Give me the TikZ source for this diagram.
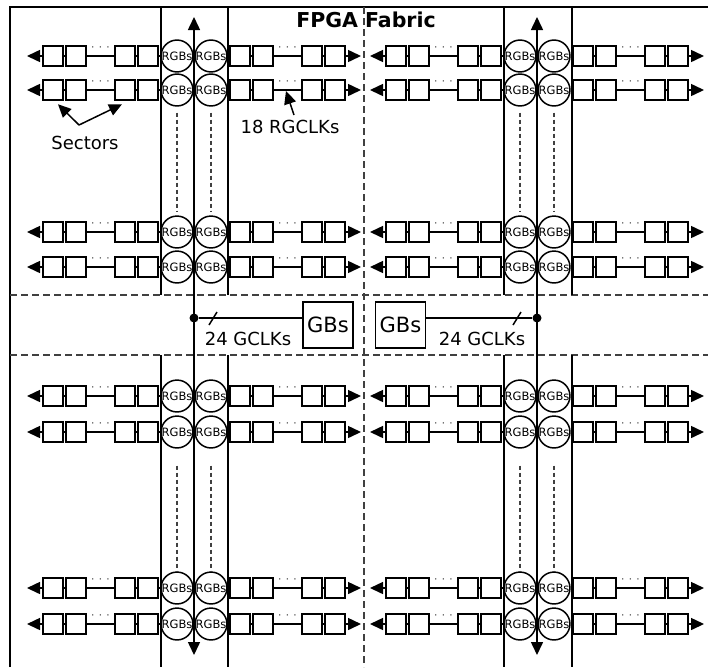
\documentclass[tikz,border=0pt]{standalone}
\usepackage{fontspec}
\setmainfont{DejaVu Sans}
\usetikzlibrary{arrows.meta}
\begin{document}
\begin{tikzpicture}[x=1pt,y=-1pt,line width=1.5pt,
  tip/.style={-{Triangle[length=13pt,width=12pt]}},
  tips/.style={{Triangle[length=13pt,width=12pt]}-{Triangle[length=13pt,width=12pt]}},
  sector/.style={draw,fill=white,minimum size=20pt,inner sep=0pt},
  rgb/.style={circle,draw,fill=white,minimum size=31pt,inner sep=0pt,font=\fontsize{11.5}{11.5}\selectfont},
  gb/.style={draw,minimum width=50pt,minimum height=46pt,inner sep=0pt,font=\fontsize{21}{21}\selectfont},
  lbl/.style={font=\fontsize{18}{18}\selectfont,inner sep=0pt},
  dots/.style={font=\fontsize{12}{12}\selectfont,text=black!60,inner sep=0pt},
  sep/.style={dash pattern=on 7pt off 4pt,draw=black!75},
  vdash/.style={dash pattern=on 4pt off 3pt,line width=1.3pt,draw=black!75}]
\useasboundingbox (0,0) rectangle (708,667);
\draw (10,667)--(10,7)--(708,7);
\draw[sep] (10,295)--(708,295);
\draw[sep] (10,355)--(708,355);
\draw[sep] (364,7)--(364,667);
\foreach \x in {161,228,504,572}
{
    \draw (\x,7)--(\x,295);
    \draw (\x,355)--(\x,667);
}
\node[font=\fontsize{20.5}{20.5}\selectfont\bfseries] (title) at (366,20) {FPGA Fabric};
\foreach \cx/\h in {194/L,537/R}
{
    \coordinate (top\h) at (\cx,17);
    \coordinate (bot\h) at (\cx,655);
    \draw[tips] (top\h)--(bot\h);
    \foreach \y/\r in {56/1,90/2,232/3,267/4,396/5,432/6,588/7,624/8}
    {
        \node[rgb] (a\h\r) at (\cx-17,\y) {RGBs};
        \node[rgb] (b\h\r) at (\cx+17,\y) {RGBs};
        \foreach \dx [count=\k] in {-141,-118,-69,-46,46,69,118,141}
            \node[sector] (s\h\r\k) at (\cx+\dx,\y) {};
        \coordinate (w\h\r) at (\cx-167,\y);
        \coordinate (e\h\r) at (\cx+167,\y);
        \node[dots] (d\h\r) at (\cx-93.5,\y-7) {· · ·};
        \node[dots] (f\h\r) at (\cx+93.5,\y-7) {· · ·};
        \draw[tip] (s\h\r1)--(w\h\r);
        \draw[tip] (s\h\r8)--(e\h\r);
        \draw (s\h\r1)--(s\h\r2)--(s\h\r3)--(s\h\r4)--(a\h\r)--(b\h\r)--(s\h\r5)--(s\h\r6)--(s\h\r7)--(s\h\r8);
    }
    \foreach \n in {a,b}
    {
        \draw[vdash,shorten <=6pt,shorten >=3pt] (\n\h2)--(\n\h3);
        \draw[vdash,shorten <=17pt] (\n\h6)--(\n\h7);
    }
}
\node[circle,fill,inner sep=0pt,minimum size=9pt] (jL) at (194,318) {};
\node[circle,fill,inner sep=0pt,minimum size=9pt] (jR) at (537,318) {};
\node[gb] (gbL) at (328,325) {GBs};
\node[gb] (gbR) at (400.5,325) {GBs};
\draw (jL)--(gbL.west|-jL);
\draw (jR)--(gbR.east|-jR);
\draw (209,325)--(217,312);
\draw (513,325)--(521,312);
\node[lbl] (gcL) at (248,339) {24 GCLKs};
\node[lbl] (gcR) at (482,339) {24 GCLKs};
\node[lbl] (sec) at (85,143) {Sectors};
\coordinate (secx) at (79,125);
\draw[tip] (secx)--([shift={(5,3.5)}]sL21.south);
\draw[tip] (secx)--([shift={(-3,3.5)}]sL23.south);
\node[lbl] (rg) at (290,127) {18 RGCLKs};
\coordinate (rgx) at (294,115);
\draw[tip] (rgx)--([shift={(-1.5,8)}]fL2.center);
\end{tikzpicture}
\end{document}
